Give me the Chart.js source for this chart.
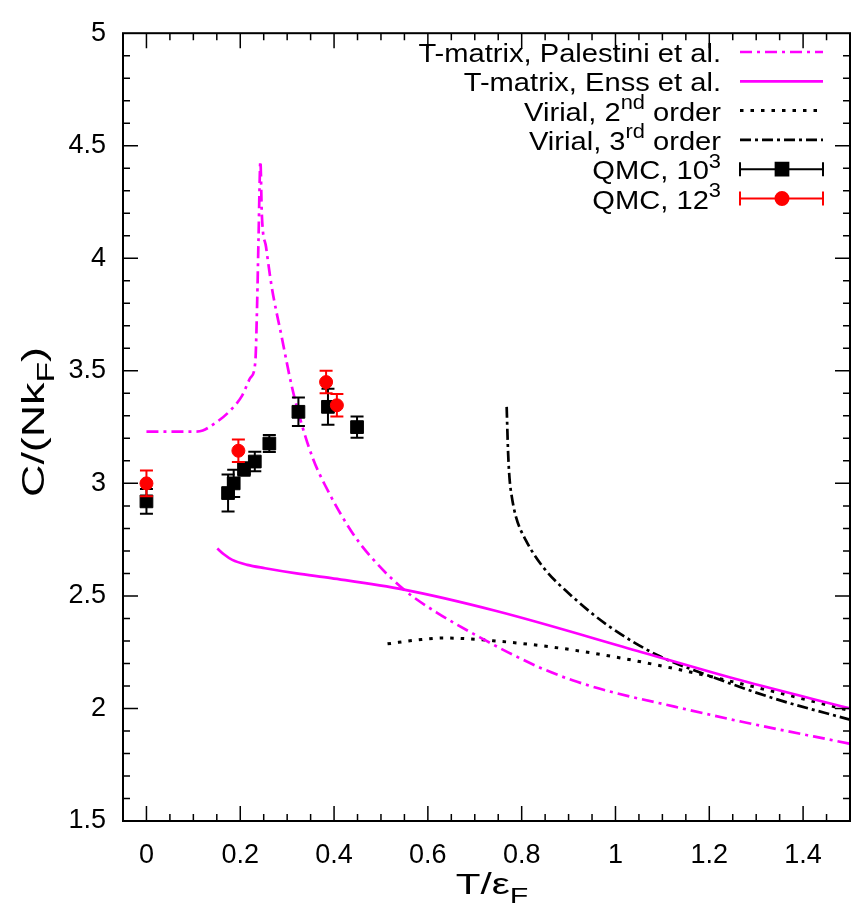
<!DOCTYPE html>
<html>
<head>
<meta charset="utf-8">
<script src="https://cdn.jsdelivr.net/npm/chart.js@4.4.1/dist/chart.umd.min.js"></script>
<style>
html, body { margin: 0; padding: 0; background: #fff; overflow: hidden; }
canvas { display: block; }
</style>
</head>
<body>
<canvas id="grafica" width="860" height="912"></canvas>
<script>
// T-matrix, Palestini et al.
var palestiniX = [0, 0.05, 0.1, 0.12, 0.141, 0.176, 0.204, 0.222, 0.232, 0.236, 0.239, 0.243, 0.246, 0.255, 0.267, 0.288, 0.31, 0.33, 0.355, 0.38, 0.436, 0.478, 0.549, 0.619, 0.725, 0.78, 0.845, 0.91, 0.985, 1.126, 1.267, 1.5];
var palestiniY = [3.23, 3.23, 3.23, 3.235, 3.26, 3.318, 3.39, 3.47, 3.537, 3.80, 4.093, 4.43, 4.195, 4.05, 3.874, 3.654, 3.43, 3.27, 3.11, 2.995, 2.79, 2.675, 2.528, 2.426, 2.30, 2.24, 2.176, 2.124, 2.077, 2.008, 1.942, 1.843];
// T-matrix, Enss et al.
var enssX = [0.151, 0.165, 0.183, 0.215, 0.253, 0.32, 0.394, 0.549, 0.746, 1.056, 1.267, 1.5];
var enssY = [2.711, 2.685, 2.66, 2.638, 2.623, 2.60, 2.579, 2.528, 2.433, 2.25, 2.125, 2.0];
// virial 2do orden
var virial2X = [0.514, 0.58, 0.633, 0.739, 0.915, 1.126, 1.337, 1.5];
var virial2Y = [2.287, 2.305, 2.313, 2.301, 2.258, 2.177, 2.075, 1.99];
// virial 3er orden
var virial3X = [0.768, 0.771, 0.774, 0.779, 0.788, 0.809, 0.845, 0.915, 0.985, 1.091, 1.196, 1.337, 1.5];
var virial3Y = [3.34, 3.14, 3.025, 2.94, 2.85, 2.747, 2.63, 2.484, 2.367, 2.235, 2.148, 2.045, 1.95];
// QMC 10^3
var qmc10X = [0, 0.174, 0.186, 0.208, 0.231, 0.262, 0.324, 0.387, 0.449];
var qmc10Y = [2.92, 2.957, 3.0, 3.064, 3.097, 3.177, 3.318, 3.34, 3.25];
var qmc10Err = [0.055, 0.082, 0.06, 0.03, 0.043, 0.038, 0.063, 0.08, 0.047];
// QMC 12^3
var qmc12X = [0, 0.196, 0.383, 0.406];
var qmc12Y = [3.0, 3.145, 3.45, 3.347];
var qmc12Err = [0.057, 0.05, 0.05, 0.05];

var xTicks = [0, 0.2, 0.4, 0.6, 0.8, 1, 1.2, 1.4];
var yTicks = [1.5, 2, 2.5, 3, 3.5, 4, 4.5, 5];

var FUENTE = '"Liberation Sans", Arial, sans-serif';

function puntos(xs, ys) {
	return xs.map(function(x, i) { return {x: x, y: ys[i]}; });
}

// texto con superindices / subindices
function textoRico(ctx, partes, x, y, size, align, estirar) {
	ctx.save();
	ctx.translate(x, y);
	ctx.scale(estirar, 1);
	ctx.textBaseline = 'alphabetic';
	ctx.fillStyle = '#000';
	var ancho = 0;
	partes.forEach(function(p) {
		ctx.font = (p[1] ? size * 0.75 : size) + 'px ' + FUENTE;
		ancho += ctx.measureText(p[0]).width;
	});
	var cx = align === 'right' ? -ancho : (align === 'center' ? -ancho / 2 : 0);
	partes.forEach(function(p) {
		var s = p[1] ? size * 0.75 : size;
		ctx.font = s + 'px ' + FUENTE;
		var dy = p[1] === 'sup' ? -size * 0.45 : (p[1] === 'sub' ? size * 0.3 : 0);
		ctx.fillText(p[0], cx, dy);
		cx += ctx.measureText(p[0]).width;
	});
	ctx.restore();
}

var barrasError = {
	id: 'barrasError',
	beforeDatasetDraw: function(chart, args) {
		var ds = chart.data.datasets[args.index];
		if (!ds.errores) return;
		var ctx = chart.ctx, sx = chart.scales.x, sy = chart.scales.y;
		ctx.save();
		ctx.strokeStyle = ds.borderColor;
		ctx.lineWidth = 2;
		ds.data.forEach(function(p, i) {
			var px = sx.getPixelForValue(p.x);
			var arriba = sy.getPixelForValue(p.y + ds.errores[i]);
			var abajo = sy.getPixelForValue(p.y - ds.errores[i]);
			ctx.beginPath();
			ctx.moveTo(px, arriba); ctx.lineTo(px, abajo);
			ctx.moveTo(px - 6.5, arriba); ctx.lineTo(px + 6.5, arriba);
			ctx.moveTo(px - 6.5, abajo); ctx.lineTo(px + 6.5, abajo);
			ctx.stroke();
		});
		ctx.restore();
	}
};

var marco = {
	id: 'marco',
	afterDraw: function(chart) {
		var ctx = chart.ctx, a = chart.chartArea, sx = chart.scales.x, sy = chart.scales.y;
		ctx.save();
		ctx.strokeStyle = '#000';
		ctx.lineWidth = 2;
		ctx.strokeRect(a.left, a.top, a.right - a.left, a.bottom - a.top);
		ctx.lineWidth = 1.5;
		ctx.beginPath();
		for (var i = 0; i < 30; i++) {
			var l = (i % 4 === 0) ? 15 : 7;
			var px = sx.getPixelForValue(i * 0.05);
			ctx.moveTo(px, a.bottom); ctx.lineTo(px, a.bottom - l);
			ctx.moveTo(px, a.top); ctx.lineTo(px, a.top + l);
		}
		for (var j = 1; j < 35; j++) {
			var lj = (j % 5 === 0) ? 15 : 7;
			var py = sy.getPixelForValue(1.5 + j * 0.1);
			ctx.moveTo(a.left, py); ctx.lineTo(a.left + lj, py);
			ctx.moveTo(a.right, py); ctx.lineTo(a.right - lj, py);
		}
		ctx.stroke();
		ctx.restore();
	}
};

var leyenda = {
	id: 'leyenda',
	afterDraw: function(chart) {
		var ctx = chart.ctx;
		chart.data.datasets.forEach(function(ds) {
			var yc = 52 + ds.fila * 29.3;
			textoRico(ctx, ds.leyenda, 721, yc + 10, 26, 'right', 1.12);
			ctx.save();
			ctx.strokeStyle = ds.borderColor;
			ctx.lineWidth = ds.errores ? 2 : ds.borderWidth;
			ctx.setLineDash(ds.borderDash || []);
			ctx.beginPath();
			ctx.moveTo(740, yc); ctx.lineTo(823, yc);
			if (ds.errores) {
				ctx.moveTo(740, yc - 7); ctx.lineTo(740, yc + 7);
				ctx.moveTo(823, yc - 7); ctx.lineTo(823, yc + 7);
			}
			ctx.stroke();
			if (ds.errores) {
				ctx.fillStyle = ds.backgroundColor;
				ctx.strokeStyle = ds.borderColor;
				Chart.helpers.drawPoint(ctx, {pointStyle: ds.pointStyle, radius: ds.pointRadius, rotation: 0, borderWidth: 1}, 782, yc);
			}
			ctx.restore();
		});
	}
};

var titulos = {
	id: 'titulos',
	afterDraw: function(chart) {
		var ctx = chart.ctx;
		textoRico(ctx, [['T/ε', ''], ['F', 'sub']], 492, 894, 30, 'center', 1.35);
		ctx.save();
		ctx.translate(44, 422);
		ctx.rotate(-Math.PI / 2);
		textoRico(ctx, [['C/(Nk', ''], ['F', 'sub'], [')', '']], 0, 0, 32, 'center', 1.4);
		ctx.restore();
	}
};

var lineaBase = {
	type: 'line',
	pointRadius: 0,
	borderWidth: 2.7,
	fill: false,
	cubicInterpolationMode: 'monotone'
};

var grafica = new Chart(document.getElementById('grafica').getContext('2d'), {
	data: {
		datasets: [
			{
				type: 'scatter', order: 0, fila: 5,
				leyenda: [['QMC, 12', ''], ['3', 'sup']],
				data: puntos(qmc12X, qmc12Y), errores: qmc12Err,
				pointStyle: 'circle', pointRadius: 6.5,
				backgroundColor: '#ff0000', borderColor: '#ff0000', borderWidth: 1
			},
			{
				type: 'scatter', order: 1, fila: 4,
				leyenda: [['QMC, 10', ''], ['3', 'sup']],
				data: puntos(qmc10X, qmc10Y), errores: qmc10Err,
				pointStyle: 'rect', pointRadius: 9,
				backgroundColor: '#000000', borderColor: '#000000', borderWidth: 1
			},
			Object.assign({}, lineaBase, {
				order: 2, fila: 0,
				leyenda: [['T-matrix, Palestini et al.', '']],
				data: puntos(palestiniX, palestiniY),
				borderColor: '#ff00ff', borderDash: [12, 5, 3, 5]
			}),
			Object.assign({}, lineaBase, {
				order: 3, fila: 1,
				leyenda: [['T-matrix, Enss et al.', '']],
				data: puntos(enssX, enssY),
				borderColor: '#ff00ff'
			}),
			Object.assign({}, lineaBase, {
				order: 4, fila: 2,
				leyenda: [['Virial, 2', ''], ['nd', 'sup'], [' order', '']],
				data: puntos(virial2X, virial2Y),
				borderColor: '#000000', borderWidth: 3, borderDash: [3.5, 7]
			}),
			Object.assign({}, lineaBase, {
				order: 5, fila: 3,
				leyenda: [['Virial, 3', ''], ['rd', 'sup'], [' order', '']],
				data: puntos(virial3X, virial3Y),
				borderColor: '#000000', borderDash: [11, 4, 3, 4]
			})
		]
	},
	options: {
		responsive: false,
		animation: false,
		devicePixelRatio: 1,
		layout: { padding: { top: 23, right: 2, left: 0, bottom: 0 } },
		plugins: {
			legend: { display: false },
			tooltip: { enabled: false }
		},
		scales: {
			x: {
				type: 'linear',
				min: -0.05,
				max: 1.5,
				afterBuildTicks: function(scale) { scale.ticks = xTicks.map(function(v) { return {value: v}; }); },
				afterFit: function(scale) { scale.height = 91; },
				grid: { display: false, drawTicks: false },
				border: { display: false },
				ticks: {
					color: '#000',
					padding: 18,
					maxRotation: 0,
					font: { family: FUENTE, size: 27 },
					callback: function(v) { return String(v); }
				}
			},
			y: {
				type: 'linear',
				min: 1.5,
				max: 5,
				afterBuildTicks: function(scale) { scale.ticks = yTicks.map(function(v) { return {value: v}; }); },
				afterFit: function(scale) { scale.width = 123; },
				grid: { display: false, drawTicks: false },
				border: { display: false },
				ticks: {
					color: '#000',
					padding: 17,
					font: { family: FUENTE, size: 27 },
					callback: function(v) { return String(v); }
				}
			}
		}
	},
	plugins: [barrasError, marco, leyenda, titulos]
});
</script>
</body>
</html>
